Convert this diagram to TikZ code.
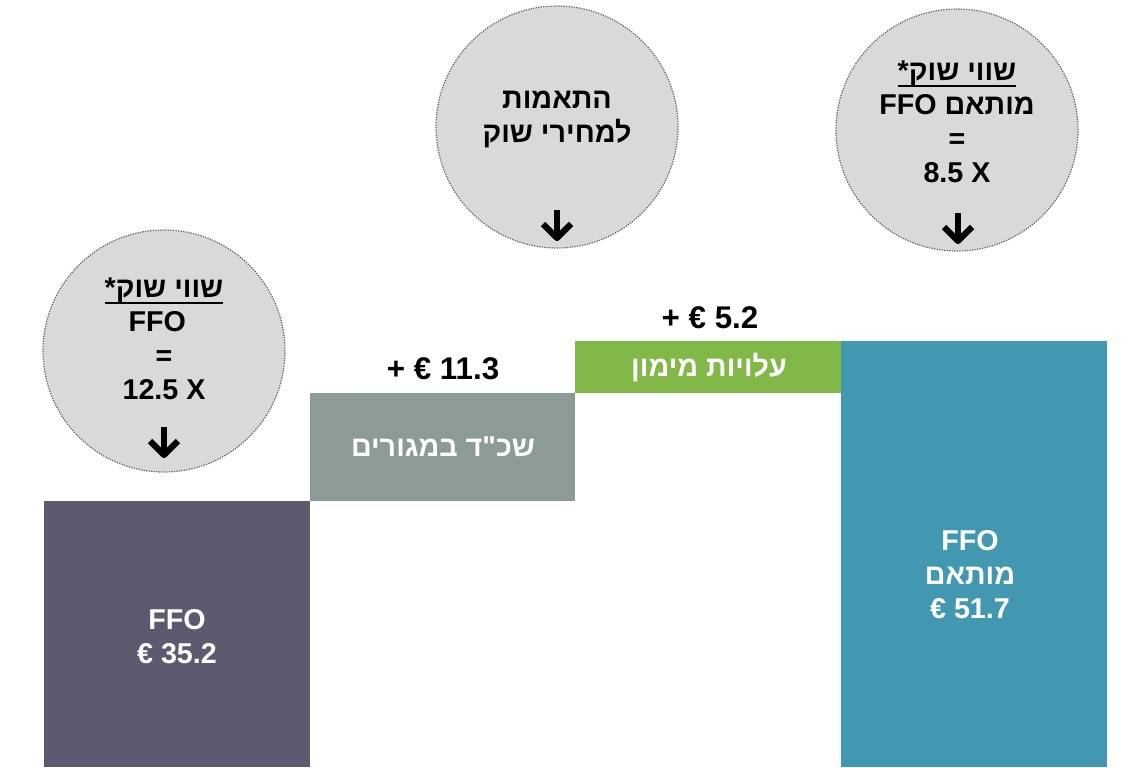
\documentclass[tikz,border=0pt]{standalone}
\usepackage{fontspec}
\setmainfont{Liberation Sans}
\newfontfamily\hebfont[Script=Hebrew,Ligatures=TeXOff]{Liberation Sans}
\TeXXeTstate=1
\usetikzlibrary{calc}

\definecolor{ffogray}{HTML}{5B5A6E}
\definecolor{rentgray}{HTML}{8C9B94}
\definecolor{costgreen}{HTML}{82B848}
\definecolor{adjteal}{HTML}{4398B1}
\definecolor{bubblegray}{HTML}{D9D9D9}
\definecolor{dotgray}{HTML}{5A5A6A}

% hebrew words, right to left
\newcommand{\heb}[1]{{\hebfont\beginR #1\endR}}
\newcommand{\hebul}[1]{\setbox0\hbox{#1}\leavevmode\rlap{\raisebox{-4.5pt}{\rule{\wd0}{1.4pt}}}\box0}

\begin{document}
\begin{tikzpicture}[x=0.75pt,y=-0.75pt,
	bubble/.style={circle,fill=bubblegray,draw=dotgray,densely dotted,line width=0.9pt,minimum size=181.5pt,inner sep=0pt},
	bubbletext/.style={align=center,font=\bfseries\fontsize{21.5}{25.5}\selectfont},
	bartext/.style={align=center,text=white,font=\bfseries\fontsize{21.5}{25.5}\selectfont},
	amount/.style={font=\bfseries\fontsize{23.5}{26}\selectfont},
	arrowstroke/.style={line width=4.6pt,line join=round}]
			\useasboundingbox (0,0) rectangle (1127,767);

			% bars
			\fill[ffogray] (44,501) rectangle (310,767);
			\fill[rentgray] (310,393) rectangle (575,501);
			\fill[costgreen] (575,341) rectangle (841,393);
			\fill[adjteal] (841,341) rectangle (1107,767);

			\node[bartext] at (177,637) (ffo) {FFO\\€ 35.2};
			\node[bartext] at (443,447) (rent) {\heb{שכ"ד במגורים}};
			\node[bartext] at (709,368) (cost) {\heb{עלויות מימון}};
			\node[bartext] at (970,575) (adjffo) {FFO\\\heb{מותאם}\\€ 51.7};

			\node[amount] at (443,369) (plusrent) {+ € 11.3};
			\node[amount] at (710,318) (pluscost) {+ € 5.2};

			% bubbles
			\node[bubble] at (164,351) (mktl) {};
			\node[bubble] at (557,127) (adjm) {};
			\node[bubble] at (957,130) (mktr) {};

			\node[bubbletext] at (164,339) (mktltext) {\hebul{\heb{שווי שוק*}}\\\mbox{FFO\hspace{10pt}}\\=\\12.5 X};
			\node[bubbletext] at (557,119) (adjmtext) {\heb{התאמות}\\\heb{למחירי שוק}};
			\node[bubbletext] at (957,122) (mktrtext) {\hebul{\heb{שווי שוק*}}\\FFO \heb{מותאם}\\=\\8.5 X};

			\foreach \x/\y in {164/455,557/238,958/241}{
				\draw[arrowstroke] (\x,\y-28)--(\x,\y);
				\draw[arrowstroke] (\x-14,\y-14)--(\x,\y)--(\x+14,\y-14);
			}
		\end{tikzpicture}
\end{document}
